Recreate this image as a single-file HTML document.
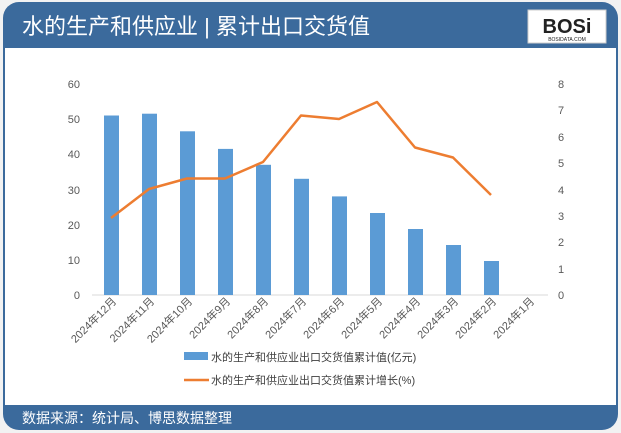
<!DOCTYPE html>
<html><head><meta charset="utf-8"><style>
body{margin:0;background:#fff;}
svg{display:block;font-family:"Liberation Sans","Noto Sans CJK SC",sans-serif;}
</style></head><body>
<svg width="621" height="433" viewBox="0 0 621 433">
<rect x="0" y="0" width="621" height="433" fill="#f2f2f2"/>
<rect x="3" y="2" width="615" height="428" rx="16" fill="#3b6a9c"/>
<rect x="5" y="48" width="611" height="357" fill="#fff"/>
<text x="22" y="34" font-size="22" fill="#fff">水的生产和供应业 | 累计出口交货值</text>
<rect x="528" y="10" width="78" height="33" fill="#fff" stroke="#ccc"/>
<text x="567" y="33" font-size="20" font-weight="bold" text-anchor="middle" fill="#222">BOSi</text>
<text x="567" y="41" font-size="5" text-anchor="middle" fill="#222">BOSIDATA.COM</text>
<text x="22" y="423" font-size="14" fill="#fff">数据来源：统计局、博思数据整理</text>
<g font-size="11" fill="#595959">
<text x="80" y="88" text-anchor="end">60</text>
<text x="80" y="123" text-anchor="end">50</text>
<text x="80" y="158" text-anchor="end">40</text>
<text x="80" y="194" text-anchor="end">30</text>
<text x="80" y="229" text-anchor="end">20</text>
<text x="80" y="264" text-anchor="end">10</text>
<text x="80" y="299" text-anchor="end">0</text>
<text x="558" y="88">8</text><text x="558" y="114">7</text><text x="558" y="141">6</text><text x="558" y="167">5</text><text x="558" y="194">4</text><text x="558" y="220">3</text><text x="558" y="246">2</text><text x="558" y="273">1</text><text x="558" y="299">0</text>
</g>
<line x1="92" y1="295" x2="548" y2="295" stroke="#d9d9d9"/>
<g fill="#5b9bd5">
<rect x="104" y="115.5" width="15" height="179.5"/>
<rect x="142" y="113.7" width="15" height="181.3"/>
<rect x="180" y="131.3" width="15" height="163.7"/>
<rect x="218" y="148.9" width="15" height="146.1"/>
<rect x="256" y="164.8" width="15" height="130.2"/>
<rect x="294" y="178.8" width="15" height="116.2"/>
<rect x="332" y="196.4" width="15" height="98.6"/>
<rect x="370" y="213" width="15" height="82"/>
<rect x="408" y="229" width="15" height="66"/>
<rect x="446" y="245" width="15" height="50"/>
<rect x="484" y="261" width="15" height="34"/>
</g>
<polyline fill="none" stroke="#ed7d31" stroke-width="2.5" stroke-linejoin="round" points="111,218 149,189 187,178.5 225,178.5 263,162 301,115.5 339,119 377,102 415,147.5 453,157.5 491,195"/>
<g font-size="11" fill="#595959" text-anchor="end">
<text transform="translate(117,302) rotate(-45)">2024年12月</text>
<text transform="translate(155,302) rotate(-45)">2024年11月</text>
<text transform="translate(193,302) rotate(-45)">2024年10月</text>
<text transform="translate(231,302) rotate(-45)">2024年9月</text>
<text transform="translate(269,302) rotate(-45)">2024年8月</text>
<text transform="translate(307,302) rotate(-45)">2024年7月</text>
<text transform="translate(345,302) rotate(-45)">2024年6月</text>
<text transform="translate(383,302) rotate(-45)">2024年5月</text>
<text transform="translate(421,302) rotate(-45)">2024年4月</text>
<text transform="translate(459,302) rotate(-45)">2024年3月</text>
<text transform="translate(497,302) rotate(-45)">2024年2月</text>
<text transform="translate(535,302) rotate(-45)">2024年1月</text>
</g>
<rect x="184" y="352" width="24" height="8" fill="#5b9bd5"/>
<text x="211" y="361" font-size="11" fill="#404040">水的生产和供应业出口交货值累计值(亿元)</text>
<line x1="184" y1="380" x2="209" y2="380" stroke="#ed7d31" stroke-width="2.5"/>
<text x="211" y="384" font-size="11" fill="#404040">水的生产和供应业出口交货值累计增长(%)</text>
</svg>
</body></html>
